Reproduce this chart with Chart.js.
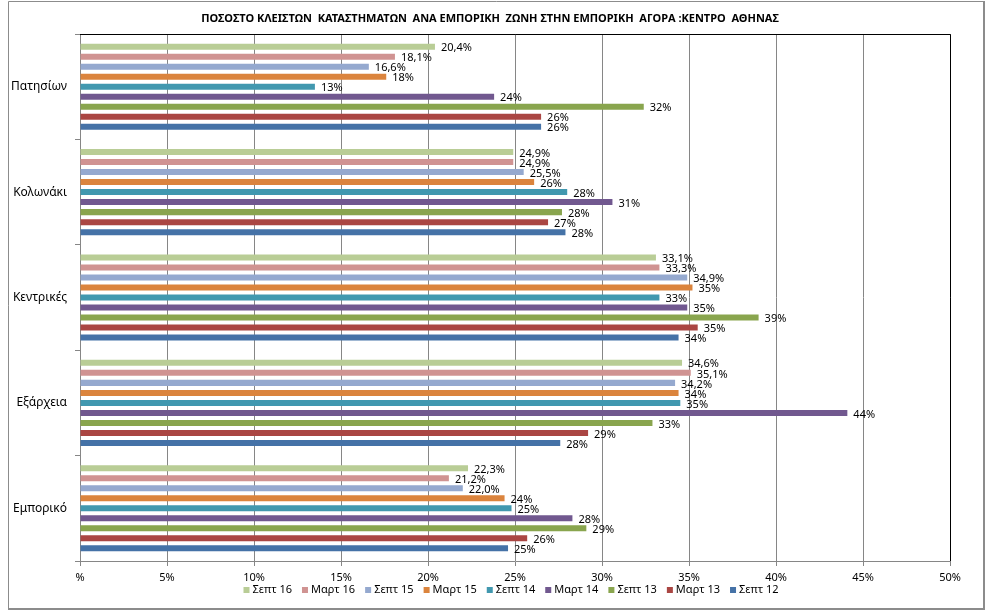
<!DOCTYPE html>
<html>
<head>
<meta charset="utf-8">
<script src="https://cdn.jsdelivr.net/npm/chart.js@4.4.1/dist/chart.umd.min.js"></script>
<style>
  html, body { margin:0; padding:0; background:#fff; overflow:hidden; }
  canvas { display:block; }
</style>
</head>
<body>
<canvas id="c" width="1007" height="614"></canvas>
<script>
// ---- DATA ----
const chartTitle = 'ΠΟΣΟΣΤΟ ΚΛΕΙΣΤΩΝ  ΚΑΤΑΣΤΗΜΑΤΩΝ  ΑΝΑ ΕΜΠΟΡΙΚΗ  ΖΩΝΗ ΣΤΗΝ ΕΜΠΟΡΙΚΗ  ΑΓΟΡΑ :ΚΕΝΤΡΟ  ΑΘΗΝΑΣ';
const categories = ['Πατησίων', 'Κολωνάκι', 'Κεντρικές', 'Εξάρχεια', 'Εμπορικό'];
const seriesNames = ['Σεπτ 16', 'Μαρτ 16', 'Σεπτ 15', 'Μαρτ 15', 'Σεπτ 14', 'Μαρτ 14', 'Σεπτ 13', 'Μαρτ 13', 'Σεπτ 12'];

const sept16 = [20.4, 24.9, 33.1, 34.6, 22.3];
const mart16 = [18.1, 24.9, 33.3, 35.1, 21.2];
const sept15 = [16.6, 25.5, 34.9, 34.2, 22.0];
const mart15 = [17.6, 26.1, 35.2, 34.4, 24.4];
const sept14 = [13.5, 28.0, 33.3, 34.5, 24.8];
const mart14 = [23.8, 30.6, 34.9, 44.1, 28.3];
const sept13 = [32.4, 27.7, 39.0, 32.9, 29.1];
const mart13 = [26.5, 26.9, 35.5, 29.2, 25.7];
const sept12 = [26.5, 27.9, 34.4, 27.6, 24.6];

const sept16Labels = ['20,4%', '24,9%', '33,1%', '34,6%', '22,3%'];
const mart16Labels = ['18,1%', '24,9%', '33,3%', '35,1%', '21,2%'];
const sept15Labels = ['16,6%', '25,5%', '34,9%', '34,2%', '22,0%'];
const mart15Labels = ['18%', '26%', '35%', '34%', '24%'];
const sept14Labels = ['13%', '28%', '33%', '35%', '25%'];
const mart14Labels = ['24%', '31%', '35%', '44%', '28%'];
const sept13Labels = ['32%', '28%', '39%', '33%', '29%'];
const mart13Labels = ['26%', '27%', '35%', '29%', '26%'];
const sept12Labels = ['26%', '28%', '34%', '28%', '25%'];

const xTickValues = [0, 5, 10, 15, 20, 25, 30, 35, 40, 45, 50];
const xTickLabels = ['%', '5%', '10%', '15%', '20%', '25%', '30%', '35%', '40%', '45%', '50%'];

// ---- STYLE ----
const seriesValues = [sept16, mart16, sept15, mart15, sept14, mart14, sept13, mart13, sept12];
const seriesLabels = [sept16Labels, mart16Labels, sept15Labels, mart15Labels, sept14Labels, mart14Labels, sept13Labels, mart13Labels, sept12Labels];
const colors = ['#B9CD96', '#D09392', '#95A9CF', '#DB843D', '#4198AF', '#71588F', '#89A54E', '#AA4643', '#4572A7'];
const FONT = '"Noto Sans", "Open Sans", "DejaVu Sans", sans-serif';

const decor = {
  id: 'decor',
  beforeDraw(chart) {
    const c = chart.ctx;
    c.save();
    c.fillStyle = '#fff';
    c.fillRect(0, 0, chart.width, chart.height);
    c.restore();
  },
  afterDraw(chart) {
    const c = chart.ctx;
    const a = chart.chartArea;
    c.save();
    // outer frame
    c.strokeStyle = '#8c8c8c';
    c.lineWidth = 1;
    c.beginPath();
    c.moveTo(8.5, 609); c.lineTo(8.5, 1.5); c.lineTo(984, 1.5);
    c.stroke();
    c.lineWidth = 2;
    c.beginPath();
    c.moveTo(984, 1); c.lineTo(984, 609); c.lineTo(8, 609);
    c.stroke();
    // black top & right plot border
    c.strokeStyle = '#000';
    c.lineWidth = 1;
    c.beginPath();
    c.moveTo(a.left, a.top + 0.5); c.lineTo(a.right + 0.5, a.top + 0.5); c.lineTo(a.right + 0.5, a.bottom);
    c.stroke();
    // title
    c.fillStyle = '#000';
    c.font = 'bold 11px ' + FONT;
    c.textAlign = 'center';
    c.textBaseline = 'middle';
    c.fillText(chartTitle, 490, 19);
    // legend
    c.font = '11px ' + FONT;
    c.textAlign = 'left';
    const box = 6, gap = 3, spacing = 10;
    const widths = chart.data.datasets.map(d => box + gap + c.measureText(d.label).width);
    const total = widths.reduce((s, w) => s + w, 0) + spacing * (widths.length - 1);
    let x = 511 - total / 2;
    const ly = 590;
    chart.data.datasets.forEach((d, i) => {
      c.fillStyle = d.backgroundColor;
      c.fillRect(x, ly - 3, box, box);
      c.fillStyle = '#000';
      c.fillText(d.label, x + box + gap, ly);
      x += widths[i] + spacing;
    });
    c.restore();
  },
  afterDatasetsDraw(chart) {
    const c = chart.ctx;
    c.save();
    c.font = '11px ' + FONT;
    c.fillStyle = '#000';
    c.textAlign = 'left';
    c.textBaseline = 'middle';
    chart.data.datasets.forEach((d, i) => {
      const meta = chart.getDatasetMeta(i);
      meta.data.forEach((el, j) => {
        c.fillText(seriesLabels[i][j], el.x + 6, el.y + 1.5);
      });
    });
    c.restore();
  }
};

new Chart(document.getElementById('c'), {
  type: 'bar',
  data: {
    labels: categories,
    datasets: seriesNames.map((n, i) => ({
      label: n,
      data: seriesValues[i],
      backgroundColor: colors[i],
      borderWidth: 0,
      categoryPercentage: 0.855,
      barPercentage: 0.6
    }))
  },
  options: {
    indexAxis: 'y',
    responsive: false,
    animation: false,
    devicePixelRatio: 1,
    layout: { padding: { left: 8, right: 57, top: 34, bottom: 0 } },
    plugins: { legend: { display: false }, title: { display: false }, tooltip: { enabled: false } },
    scales: {
      x: {
        min: 0, max: 50,
        afterBuildTicks: s => { s.ticks = xTickValues.map(v => ({ value: v })); },
        ticks: {
          callback: (v) => xTickLabels[xTickValues.indexOf(v)],
          font: { size: 11, family: FONT }, color: '#000', padding: 5, maxRotation: 0
        },
        grid: { color: '#868686', tickLength: 5 },
        border: { color: '#868686' },
        afterFit: s => { s.height = 53; }
      },
      y: {
        ticks: { font: { size: 12, family: FONT }, color: '#000', padding: 8 },
        grid: { offset: true, drawOnChartArea: false, tickLength: 5, color: '#868686' },
        border: { color: '#868686' },
        afterFit: s => { s.width = 72; }
      }
    }
  },
  plugins: [decor]
});
</script>
</body>
</html>
